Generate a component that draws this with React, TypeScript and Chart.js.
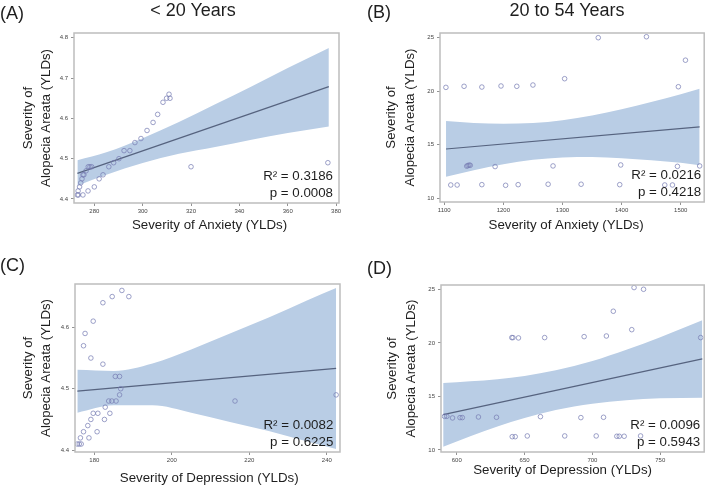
import React, { useEffect, useRef } from "react";
import { Chart, registerables } from "chart.js";

Chart.register(...registerables);

const FONT = '"Liberation Sans", Arial, Helvetica, sans-serif';
const BAND = "#b9cde5";
const FIT = "#56637f";
const DOT = "rgba(118,124,178,0.9)";
const FRAME = "#bdbdbd";
const INK = "#1e1e1e";

// ---------- (A) < 20 years: anxiety vs alopecia areata ----------
const youngAnxiety = [
  273.0, 273.4, 275.3, 273.3, 277.4, 273.9, 280.0, 274.4, 274.9, 282.0, 275.3,
  275.7, 283.6, 276.6, 277.5, 278.2, 278.9, 286.0, 288.0, 290.2, 292.3, 294.7,
  296.8, 299.3, 301.8, 304.3, 306.2, 308.4, 309.9, 311.3, 310.9, 320.0, 376.6,
];
const youngAlopeciaA = [
  4.41, 4.41, 4.41, 4.42, 4.42, 4.43, 4.43, 4.44, 4.45, 4.45, 4.46,
  4.46, 4.46, 4.47, 4.48, 4.48, 4.48, 4.48, 4.49, 4.5, 4.52, 4.52,
  4.54, 4.55, 4.57, 4.59, 4.61, 4.64, 4.65, 4.65, 4.66, 4.48, 4.49,
];
const bandAx = [273, 285, 300, 315, 330, 345, 360, 377];
const bandAUpper = [4.496, 4.516, 4.551, 4.591, 4.635, 4.679, 4.725, 4.775];
const bandALower = [4.433, 4.46, 4.489, 4.512, 4.529, 4.547, 4.564, 4.58];
const fitAx = [273, 377];
const fitAy = [4.4635, 4.679];
const ticksAx = [280, 300, 320, 340, 360, 380];
const ticksAy = [4.4, 4.5, 4.6, 4.7, 4.8];
const statsA = ["R\u00b2 = 0.3186", "p = 0.0008"];

// ---------- (B) 20 to 54 years: anxiety vs alopecia areata ----------
const adultAnxiety = [
  1102.8, 1133.5, 1163.6, 1196, 1222.7, 1250, 1303.6, 1360.5, 1442, 1508, 1496,
  1138, 1140, 1142, 1144, 1186, 1284, 1398.5, 1494.4, 1532,
  1111, 1121.8, 1163.6, 1203.8, 1225, 1275.7, 1331.5, 1396.8, 1473, 1486,
];
const adultAlopeciaB = [
  20.36, 20.46, 20.39, 20.49, 20.46, 20.58, 21.17, 25.0, 25.09, 22.9, 20.42,
  13.0, 13.05, 13.1, 13.08, 12.96, 13.02, 13.11, 12.98, 13.02,
  11.24, 11.24, 11.27, 11.21, 11.27, 11.31, 11.31, 11.27, 11.24, 11.24,
];
const bandBx = [1103, 1150, 1200, 1250, 1300, 1350, 1400, 1450, 1500, 1532];
const bandBUpper = [17.22, 17.04, 16.96, 17.03, 17.29, 17.73, 18.32, 18.99, 19.71, 20.22];
const bandBLower = [12.0, 12.62, 13.18, 13.59, 13.81, 13.85, 13.74, 13.55, 13.31, 13.08];
const fitBx = [1103, 1532];
const fitBy = [14.6, 16.66];
const ticksBx = [1100, 1200, 1300, 1400, 1500];
const ticksBy = [10, 15, 20, 25];
const statsB = ["R\u00b2 = 0.0216", "p = 0.4218"];

// ---------- (C) < 20 years: depression vs alopecia areata ----------
const youngDepression = [
  175.6, 176.1, 176.6, 176.4, 178.6, 177.2, 180.7, 178.3, 179.1, 182.6, 179.7,
  180.9, 184.0, 182.8, 183.7, 184.5, 185.6, 186.5, 186.8, 185.4, 186.5, 182.2,
  179.1, 177.2, 177.6, 179.7, 182.2, 184.6, 188.9, 187.1, 216.3, 242.4,
];
const youngAlopeciaC = [
  4.41, 4.41, 4.41, 4.42, 4.42, 4.43, 4.43, 4.44, 4.45, 4.45, 4.46,
  4.46, 4.46, 4.47, 4.48, 4.48, 4.48, 4.49, 4.5, 4.52, 4.52, 4.54,
  4.55, 4.57, 4.59, 4.61, 4.64, 4.65, 4.65, 4.66, 4.48, 4.49,
];
const bandCx = [175.6, 185, 195, 205, 215, 225, 235, 242.4];
const bandCUpper = [4.531, 4.529, 4.541, 4.564, 4.59, 4.616, 4.644, 4.664];
const bandCLower = [4.461, 4.473, 4.473, 4.461, 4.446, 4.431, 4.414, 4.402];
const fitCx = [175.6, 242.4];
const fitCy = [4.4962, 4.5332];
const ticksCx = [180, 200, 220, 240];
const ticksCy = [4.4, 4.5, 4.6];
const statsC = ["R\u00b2 = 0.0082", "p = 0.6225"];

// ---------- (D) 20 to 54 years: depression vs alopecia areata ----------
const adultDepression = [
  591, 592.7, 596.9, 602.4, 604.1, 616, 629.3, 661.7, 691.5, 708.2,
  640.6, 641.4, 645.5, 664.8, 693.9, 710.3, 779.8, 729, 715.4, 730.7, 737.7,
  640.9, 643.1, 652, 679.6, 702.8, 718, 719.8, 723.4, 735.5,
];
const adultAlopeciaD = [
  13.14, 13.14, 12.99, 13.02, 13.02, 13.08, 13.05, 13.11, 13.02, 13.05,
  20.49, 20.49, 20.46, 20.49, 20.58, 20.64, 20.49, 21.23, 22.95, 25.16, 25.0,
  11.24, 11.24, 11.31, 11.31, 11.31, 11.28, 11.28, 11.28, 11.31,
];
const bandDx = [590, 610, 630, 650, 673, 700, 725, 750, 781];
const bandDUpper = [16.25, 16.41, 16.61, 16.91, 17.43, 18.31, 19.36, 20.53, 22.1];
const bandDLower = [10.3, 11.29, 12.19, 12.99, 13.73, 14.31, 14.64, 14.83, 14.88];
const fitDx = [590, 781];
const fitDy = [13.3, 18.5];
const ticksDx = [600, 650, 700, 750];
const ticksDy = [10, 15, 20, 25];
const statsD = ["R\u00b2 = 0.0096", "p = 0.5943"];

const yTitle = ["Severity of", "Alopecia Areata (YLDs)"];

type Area = { left: number; top: number; right: number; bottom: number };
type PanelSpec = {
  left: number; top: number; width: number; height: number; area: Area;
  xMin: number; xMax: number; yMin: number; yMax: number;
  xTicks: number[]; yTicks: number[]; yDecimals: number;
  xs: number[]; ys: number[];
  bandX: number[]; bandUpper: number[]; bandLower: number[];
  fitX: number[]; fitY: number[];
  xTitle: string; xTitleDx: number; xTitleY: number; yTitlePad: number;
  stats: string[]; statsInset: number;
};

const zip = (xs: number[], ys: number[]) => xs.map((x, i) => ({ x, y: ys[i] }));

// Frame box, regression statistics and the x-axis caption
const panelDecor = {
  id: "panelDecor",
  afterDatasetsDraw(chart: any, _args: any, opts: any) {
    const { ctx, chartArea: a } = chart;
    ctx.save();
    ctx.strokeStyle = FRAME;
    ctx.lineWidth = 1.5;
    ctx.strokeRect(a.left, a.top, a.right - a.left, a.bottom - a.top);
    ctx.fillStyle = INK;
    ctx.font = `13.3px ${FONT}`;
    ctx.textAlign = "right";
    ctx.textBaseline = "middle";
    ctx.fillText(opts.stats[0], a.right - opts.inset, a.bottom - 26.5);
    ctx.fillText(opts.stats[1], a.right - opts.inset, a.bottom - 10);
    ctx.textAlign = "center";
    ctx.fillText(opts.xTitle, (a.left + a.right) / 2 + opts.xTitleDx, opts.xTitleY);
    ctx.restore();
  },
};

function Panel({ spec }: { spec: PanelSpec }) {
  const ref = useRef<HTMLCanvasElement>(null);
  useEffect(() => {
    const s = spec;
    const tickFont = { family: FONT, size: 6 };
    const chart = new Chart(ref.current as HTMLCanvasElement, {
      type: "scatter",
      data: {
        datasets: [
          {
            type: "scatter",
            data: zip(s.xs, s.ys),
            pointRadius: 2.3,
            borderWidth: 0.8,
            borderColor: DOT,
            backgroundColor: "rgba(0,0,0,0)",
            order: 0,
          },
          {
            type: "line",
            data: zip(s.fitX, s.fitY),
            borderColor: FIT,
            borderWidth: 1.2,
            pointRadius: 0,
            fill: false,
            order: 1,
          },
          {
            type: "line",
            data: zip(s.bandX, s.bandUpper),
            borderWidth: 0,
            borderColor: "rgba(0,0,0,0)",
            pointRadius: 0,
            backgroundColor: BAND,
            fill: "+1",
            cubicInterpolationMode: "monotone",
            order: 2,
          },
          {
            type: "line",
            data: zip(s.bandX, s.bandLower),
            borderWidth: 0,
            borderColor: "rgba(0,0,0,0)",
            pointRadius: 0,
            fill: false,
            cubicInterpolationMode: "monotone",
            order: 3,
          },
        ] as any,
      },
      options: {
        responsive: false,
        animation: false,
        devicePixelRatio: 1,
        layout: {
          padding: {
            left: 0,
            top: s.area.top,
            right: s.width - s.area.right,
            bottom: 0,
          },
        },
        plugins: {
          legend: { display: false },
          tooltip: { enabled: false },
          panelDecor: {
            stats: s.stats,
            inset: s.statsInset,
            xTitle: s.xTitle,
            xTitleDx: s.xTitleDx,
            xTitleY: s.xTitleY,
          },
        } as any,
        scales: {
          x: {
            type: "linear",
            min: s.xMin,
            max: s.xMax,
            afterBuildTicks: (sc: any) => {
              sc.ticks = s.xTicks.map((v) => ({ value: v }));
            },
            afterFit: (sc: any) => {
              sc.height = s.height - s.area.bottom;
            },
            grid: {
              display: true,
              drawOnChartArea: false,
              drawTicks: true,
              tickLength: 3,
              color: "#777",
              lineWidth: 0.8,
            },
            border: { display: false },
            ticks: {
              font: tickFont,
              color: "#444",
              padding: 2,
              autoSkip: false,
              maxRotation: 0,
              callback: (v: any) => String(v),
            },
          },
          y: {
            type: "linear",
            min: s.yMin,
            max: s.yMax,
            afterBuildTicks: (sc: any) => {
              sc.ticks = s.yTicks.map((v) => ({ value: v }));
            },
            afterFit: (sc: any) => {
              sc.width = s.area.left;
            },
            grid: {
              display: true,
              drawOnChartArea: false,
              drawTicks: true,
              tickLength: 3,
              color: "#777",
              lineWidth: 0.8,
            },
            border: { display: false },
            ticks: {
              font: tickFont,
              color: "#444",
              padding: 3,
              autoSkip: false,
              callback: (v: any) => Number(v).toFixed(s.yDecimals),
            },
            title: {
              display: true,
              text: yTitle,
              color: INK,
              font: { family: FONT, size: 13.2, lineHeight: 1.4 },
              padding: { top: s.yTitlePad, bottom: 0 },
            },
          },
        },
      } as any,
      plugins: [panelDecor],
    });
    return () => chart.destroy();
  }, [spec]);
  return (
    <canvas
      ref={ref}
      width={spec.width}
      height={spec.height}
      style={{
        position: "absolute",
        left: spec.left,
        top: spec.top,
        width: spec.width,
        height: spec.height,
        display: "block",
      }}
    />
  );
}

const panels: PanelSpec[] = [
  {
    left: 0, top: 0, width: 354, height: 243,
    area: { left: 74, top: 33, right: 339, bottom: 203 },
    xMin: 271.6, xMax: 381.2, yMin: 4.39, yMax: 4.812,
    xTicks: ticksAx, yTicks: ticksAy, yDecimals: 1,
    xs: youngAnxiety, ys: youngAlopeciaA,
    bandX: bandAx, bandUpper: bandAUpper, bandLower: bandALower,
    fitX: fitAx, fitY: fitAy,
    xTitle: "Severity of Anxiety (YLDs)", xTitleDx: 3, xTitleY: 225, yTitlePad: 19.1,
    stats: statsA, statsInset: 6,
  },
  {
    left: 354, top: 0, width: 355, height: 243,
    area: { left: 86, top: 33, right: 353, bottom: 202 },
    xMin: 1092.8, xMax: 1539.7, yMin: 9.65, yMax: 25.44,
    xTicks: ticksBx, yTicks: ticksBy, yDecimals: 0,
    xs: adultAnxiety, ys: adultAlopeciaB,
    bandX: bandBx, bandUpper: bandBUpper, bandLower: bandBLower,
    fitX: fitBx, fitY: fitBy,
    xTitle: "Severity of Anxiety (YLDs)", xTitleDx: -6, xTitleY: 225, yTitlePad: 28.5,
    stats: statsB, statsInset: 3,
  },
  {
    left: 0, top: 243, width: 354, height: 244,
    area: { left: 75, top: 41, right: 340, bottom: 209 },
    xMin: 175.0, xMax: 243.4, yMin: 4.397, yMax: 4.6705,
    xTicks: ticksCx, yTicks: ticksCy, yDecimals: 1,
    xs: youngDepression, ys: youngAlopeciaC,
    bandX: bandCx, bandUpper: bandCUpper, bandLower: bandCLower,
    fitX: fitCx, fitY: fitCy,
    xTitle: "Severity of Depression (YLDs)", xTitleDx: 1.7, xTitleY: 235.3, yTitlePad: 19.1,
    stats: statsC, statsInset: 6.7,
  },
  {
    left: 354, top: 243, width: 355, height: 244,
    area: { left: 87, top: 42, right: 354, bottom: 209 },
    xMin: 588.4, xMax: 782.4, yMin: 9.81, yMax: 25.4,
    xTicks: ticksDx, yTicks: ticksDy, yDecimals: 0,
    xs: adultDepression, ys: adultAlopeciaD,
    bandX: bandDx, bandUpper: bandDUpper, bandLower: bandDLower,
    fitX: fitDx, fitY: fitDy,
    xTitle: "Severity of Depression (YLDs)", xTitleDx: -10, xTitleY: 227, yTitlePad: 29.5,
    stats: statsD, statsInset: 4,
  },
];

const headings = [
  { text: "(A)", x: 0, y: 12.5, center: false },
  { text: "(B)", x: 367, y: 12, center: false },
  { text: "(C)", x: 0, y: 265, center: false },
  { text: "(D)", x: 367, y: 267.5, center: false },
  { text: "< 20 Years", x: 193, y: 10, center: true },
  { text: "20 to 54 Years", x: 567, y: 10, center: true },
];

export default function App() {
  return (
    <div
      style={{
        position: "absolute",
        left: 0,
        top: 0,
        width: 709,
        height: 487,
        background: "#ffffff",
        overflow: "hidden",
      }}
    >
      {panels.map((p, i) => (
        <Panel key={i} spec={p} />
      ))}
      {headings.map((h, i) => (
        <div
          key={"h" + i}
          style={{
            position: "absolute",
            left: h.x,
            top: h.y,
            transform: h.center ? "translate(-50%, -50%)" : "translate(0, -50%)",
            fontFamily: FONT,
            fontSize: 18,
            lineHeight: 1,
            color: INK,
            whiteSpace: "nowrap",
          }}
        >
          {h.text}
        </div>
      ))}
    </div>
  );
}
